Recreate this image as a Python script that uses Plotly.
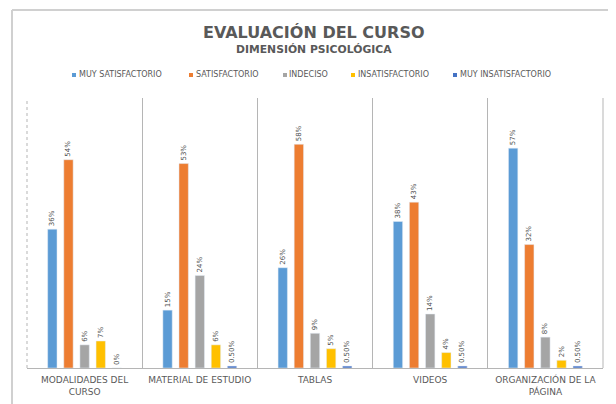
import plotly.graph_objects as go

categories = ["MODALIDADES DEL<br>CURSO", "MATERIAL DE ESTUDIO", "TABLAS", "VIDEOS",
              "ORGANIZACIÓN DE LA<br>PÁGINA"]
series_names = ["MUY SATISFACTORIO", "SATISFACTORIO", "INDECISO", "INSATISFACTORIO",
                "MUY INSATISFACTORIO"]
muy_satisfactorio = [36, 15, 26, 38, 57]
satisfactorio = [54, 53, 58, 43, 32]
indeciso = [6, 24, 9, 14, 8]
insatisfactorio = [7, 6, 5, 4, 2]
muy_insatisfactorio = [0, 0.5, 0.5, 0.5, 0.5]
label_muy_satisfactorio = ["36%", "15%", "26%", "38%", "57%"]
label_satisfactorio = ["54%", "53%", "58%", "43%", "32%"]
label_indeciso = ["6%", "24%", "9%", "14%", "8%"]
label_insatisfactorio = ["7%", "6%", "5%", "4%", "2%"]
label_muy_insatisfactorio = ["0%", "0.50%", "0.50%", "0.50%", "0.50%"]

values = [muy_satisfactorio, satisfactorio, indeciso, insatisfactorio, muy_insatisfactorio]
labels = [label_muy_satisfactorio, label_satisfactorio, label_indeciso,
          label_insatisfactorio, label_muy_insatisfactorio]
colors = ["#5B9BD5", "#ED7D31", "#A5A5A5", "#FFC000", "#4472C4"]

W, H = 616, 404
L, R, T, B = 19, 21, 90, 44
pw, ph = W - L - R, H - T - B


def px(x):
    return (x - L) / pw


def py(y):
    return (H - B - y) / ph


fig = go.Figure()
for name, vals, labs, col in zip(series_names, values, labels, colors):
    fig.add_trace(go.Bar(
        x=categories, y=vals, name=name, marker_color=col,
        text=labs, textposition="outside", textangle=-90, constraintext="none",
        textfont=dict(size=7, color="#505050", family="DejaVu Sans"),
        cliponaxis=False, showlegend=False,
    ))

grid_col = "#b5b5b5"
legend_sq_x = [64, 181, 275, 343, 445]
legend_txt_x = [69, 186, 279, 348, 450]
legend_y = 67
shapes = [
    dict(type="line", xref="paper", yref="paper",
         x0=px(4), x1=px(W), y0=py(2), y1=py(2),
         line=dict(color="#d0d0d0", width=2)),
    dict(type="line", xref="paper", yref="paper",
         x0=px(4), x1=px(4), y0=py(2), y1=py(H),
         line=dict(color="#d0d0d0", width=2)),
    dict(type="line", xref="paper", yref="paper", x0=0, x1=0, y0=0, y1=1,
         line=dict(color=grid_col, width=1, dash="dot")),
    dict(type="line", xref="paper", yref="paper", x0=1, x1=1, y0=0, y1=1,
         line=dict(color=grid_col, width=1)),
]
annotations = [
    dict(text="<b>EVALUACIÓN DEL CURSO</b>", x=px(306), y=py(24), xanchor="center",
         yanchor="middle", xref="paper", yref="paper", showarrow=False,
         font=dict(size=16, color="#595959", family="DejaVu Sans")),
    dict(text="<b>DIMENSIÓN PSICOLÓGICA</b>", x=px(306), y=py(42), xanchor="center",
         yanchor="middle", xref="paper", yref="paper", showarrow=False,
         font=dict(size=10.8, color="#595959", family="DejaVu Sans")),
]
for name, col, sx, tx in zip(series_names, colors, legend_sq_x, legend_txt_x):
    shapes.append(dict(type="rect", xref="paper", yref="paper",
                       x0=px(sx), x1=px(sx + 4), y0=py(legend_y - 2), y1=py(legend_y + 2),
                       fillcolor=col, line=dict(width=0)))
    annotations.append(dict(text=name, x=px(tx), y=py(legend_y), xanchor="left",
                            yanchor="middle", xref="paper", yref="paper", showarrow=False,
                            font=dict(size=8, color="#595959", family="DejaVu Sans")))

fig.update_layout(
    width=W, height=H,
    margin=dict(l=L, r=R, t=T, b=B),
    paper_bgcolor="white", plot_bgcolor="white",
    barmode="group", bargap=0.3, bargroupgap=0.42,
    font=dict(family="DejaVu Sans", color="#595959"),
    showlegend=False,
    annotations=annotations,
    shapes=shapes,
)
fig.update_xaxes(
    type="category", tickson="boundaries", showgrid=True, gridcolor=grid_col, gridwidth=1,
    showline=True, linecolor=grid_col, linewidth=1, ticks="",
    tickfont=dict(size=9, color="#595959"), ticklabelstandoff=3,
)
fig.update_yaxes(range=[0, 70], visible=False, showgrid=False)

fig.write_html("out.html")
